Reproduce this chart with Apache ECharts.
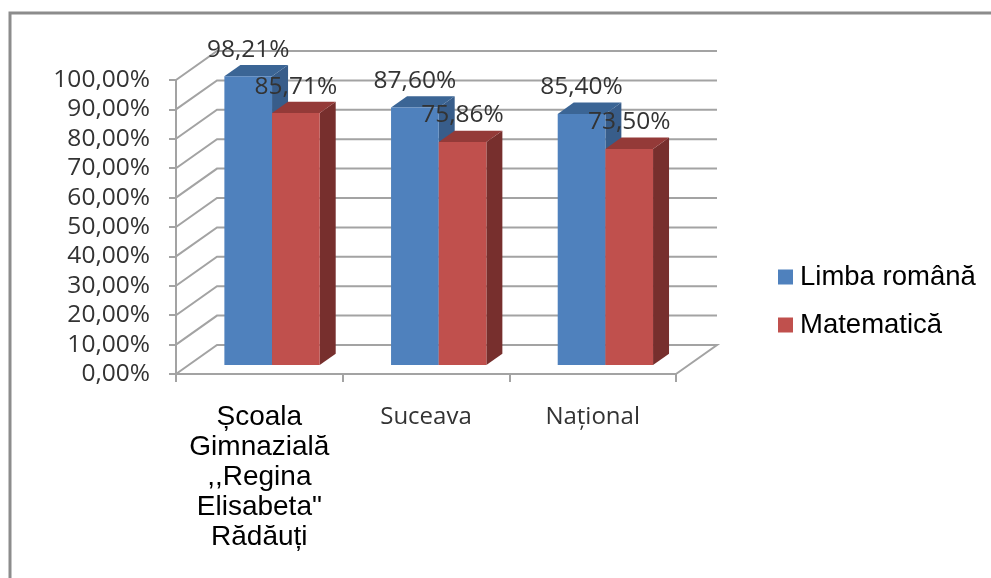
<!DOCTYPE html>
<html>
<head>
<meta charset="utf-8">
<style>
  html, body { margin: 0; padding: 0; background: #fff; }
  #chart { width: 991px; height: 578px; }
</style>
<script src="https://cdn.jsdelivr.net/npm/echarts@6/dist/echarts.min.js"></script>
</head>
<body>
<div id="chart"></div>
<script>
const categories = ['Școala\nGimnazială\n,,Regina\nElisabeta"\nRădăuți', 'Suceava', 'Național'];
const limbaRomana = [98.21, 87.6, 85.4];
const matematica = [85.71, 75.86, 73.5];
const gridValues = [0, 10, 20, 30, 40, 50, 60, 70, 80, 90, 100];

// oblique projection of the fake 3D box
const DEPTH_X = 41;
const DEPTH_Y = 29;
const BAR_FRONT = 0.31;
const BAR_BACK = 0.7;
const BAR_WIDTH = 0.286;

const project = (pt, d) => [pt[0] + d * DEPTH_X, pt[1] - d * DEPTH_Y];
const percent = (v, digits) => v.toFixed(digits).replace('.', ',') + '%';

// walls and floor lines
const renderGrid = (params, api) => {
  const value = api.value(1);
  const cs = params.coordSys;
  const y = api.coord([0, value])[1];
  const left = [cs.x, y];
  const right = [cs.x + cs.width, y];
  const points = [left, project(left, 1), project(right, 1)];
  if (value === 0) points.push(right);
  return {
    type: 'polyline',
    shape: { points },
    style: { fill: 'none', stroke: '#a3a3a3', lineWidth: 2 }
  };
};

// one 3D column; side = -1 for the left bar of a pair, 0 for the right one
const makeBarRenderer = (side, front, top, wall) => (params, api) => {
  const cat = api.value(0);
  const value = api.value(1);
  const w = api.size([1, 0])[0] * BAR_WIDTH;
  const base = api.coord([cat, 0]);
  const head = api.coord([cat, value]);
  const x0 = base[0] + side * w;
  const x1 = x0 + w;
  const p = (x, y, d) => project([x, y], d);
  const a = p(x0, head[1], BAR_FRONT);
  const b = p(x1, head[1], BAR_FRONT);
  const c = p(x1, base[1], BAR_FRONT);
  const d = p(x0, base[1], BAR_FRONT);
  const a2 = p(x0, head[1], BAR_BACK);
  const b2 = p(x1, head[1], BAR_BACK);
  const c2 = p(x1, base[1], BAR_BACK);
  return {
    type: 'group',
    children: [
      { type: 'polygon', shape: { points: [b, b2, c2, c] }, style: { fill: wall } },
      { type: 'polygon', shape: { points: [a, a2, b2, b] }, style: { fill: top } },
      { type: 'polygon', shape: { points: [a, b, c, d] }, style: { fill: front } },
      {
        type: 'text',
        z2: 100,
        x: (a[0] + b[0]) / 2,
        y: a[1] - 26.5,
        style: {
          text: percent(value, 2),
          fill: '#333',
          fontFamily: 'Open Sans',
          fontSize: 24.5,
          align: 'center',
          verticalAlign: 'middle'
        }
      }
    ]
  };
};

const chart = echarts.init(document.getElementById('chart'));

chart.setOption({
  animation: false,
  backgroundColor: '#fff',
  graphic: [
    {
      type: 'polyline',
      silent: true,
      shape: { points: [[10, 578], [10, 13], [991, 13]] },
      style: { fill: 'none', stroke: '#8c8c8c', lineWidth: 3 }
    }
  ],
  legend: {
    orient: 'vertical',
    left: 778,
    top: 263,
    padding: 0,
    itemWidth: 15,
    itemHeight: 15,
    itemGap: 20,
    icon: 'rect',
    data: ['Limba română', 'Matematică'],
    textStyle: { fontFamily: 'Liberation Sans', fontSize: 27.5, color: '#000', padding: [0, 0, 0, 2] }
  },
  grid: { left: 176, right: 315, top: 80, bottom: 204 },
  xAxis: {
    type: 'category',
    data: categories,
    axisLine: { lineStyle: { color: '#a3a3a3', width: 2 } },
    axisTick: { show: true, length: 8, alignWithLabel: false, lineStyle: { color: '#a3a3a3', width: 2 } },
    axisLabel: {
      interval: 0,
      margin: 28,
      verticalAlign: 'top',
      formatter: (v, i) => v.split('\n').map(line => `{${i === 0 ? 'school' : 'place'}|${line}}`).join('\n'),
      rich: {
        school: { fontFamily: 'Liberation Sans', fontSize: 28, color: '#000', lineHeight: 30 },
        place: { fontFamily: 'Open Sans', fontSize: 24, color: '#333', lineHeight: 30 }
      }
    }
  },
  yAxis: {
    type: 'value',
    min: 0,
    max: 100,
    interval: 10,
    splitLine: { show: false },
    axisLine: { show: true, lineStyle: { color: '#a3a3a3', width: 2 } },
    axisTick: { show: true, length: 7, lineStyle: { color: '#a3a3a3', width: 2 } },
    axisLabel: {
      margin: 26,
      padding: [3, 0, 0, 0],
      fontFamily: 'Open Sans',
      fontSize: 24.5,
      color: '#333',
      formatter: v => percent(v, 2)
    }
  },
  series: [
    {
      name: 'grid',
      type: 'custom',
      silent: true,
      clip: false,
      z: 1,
      data: gridValues.map(v => [0, v]),
      renderItem: renderGrid
    },
    {
      name: 'Limba română',
      type: 'custom',
      clip: false,
      z: 2,
      itemStyle: { color: '#4f81bd' },
      data: limbaRomana.map((v, i) => [i, v]),
      renderItem: makeBarRenderer(-1, '#4f81bd', '#3b6595', '#385d8a')
    },
    {
      name: 'Matematică',
      type: 'custom',
      clip: false,
      z: 3,
      itemStyle: { color: '#c0504d' },
      data: matematica.map((v, i) => [i, v]),
      renderItem: makeBarRenderer(0, '#c0504d', '#943a38', '#772f2d')
    }
  ]
});
</script>
</body>
</html>
